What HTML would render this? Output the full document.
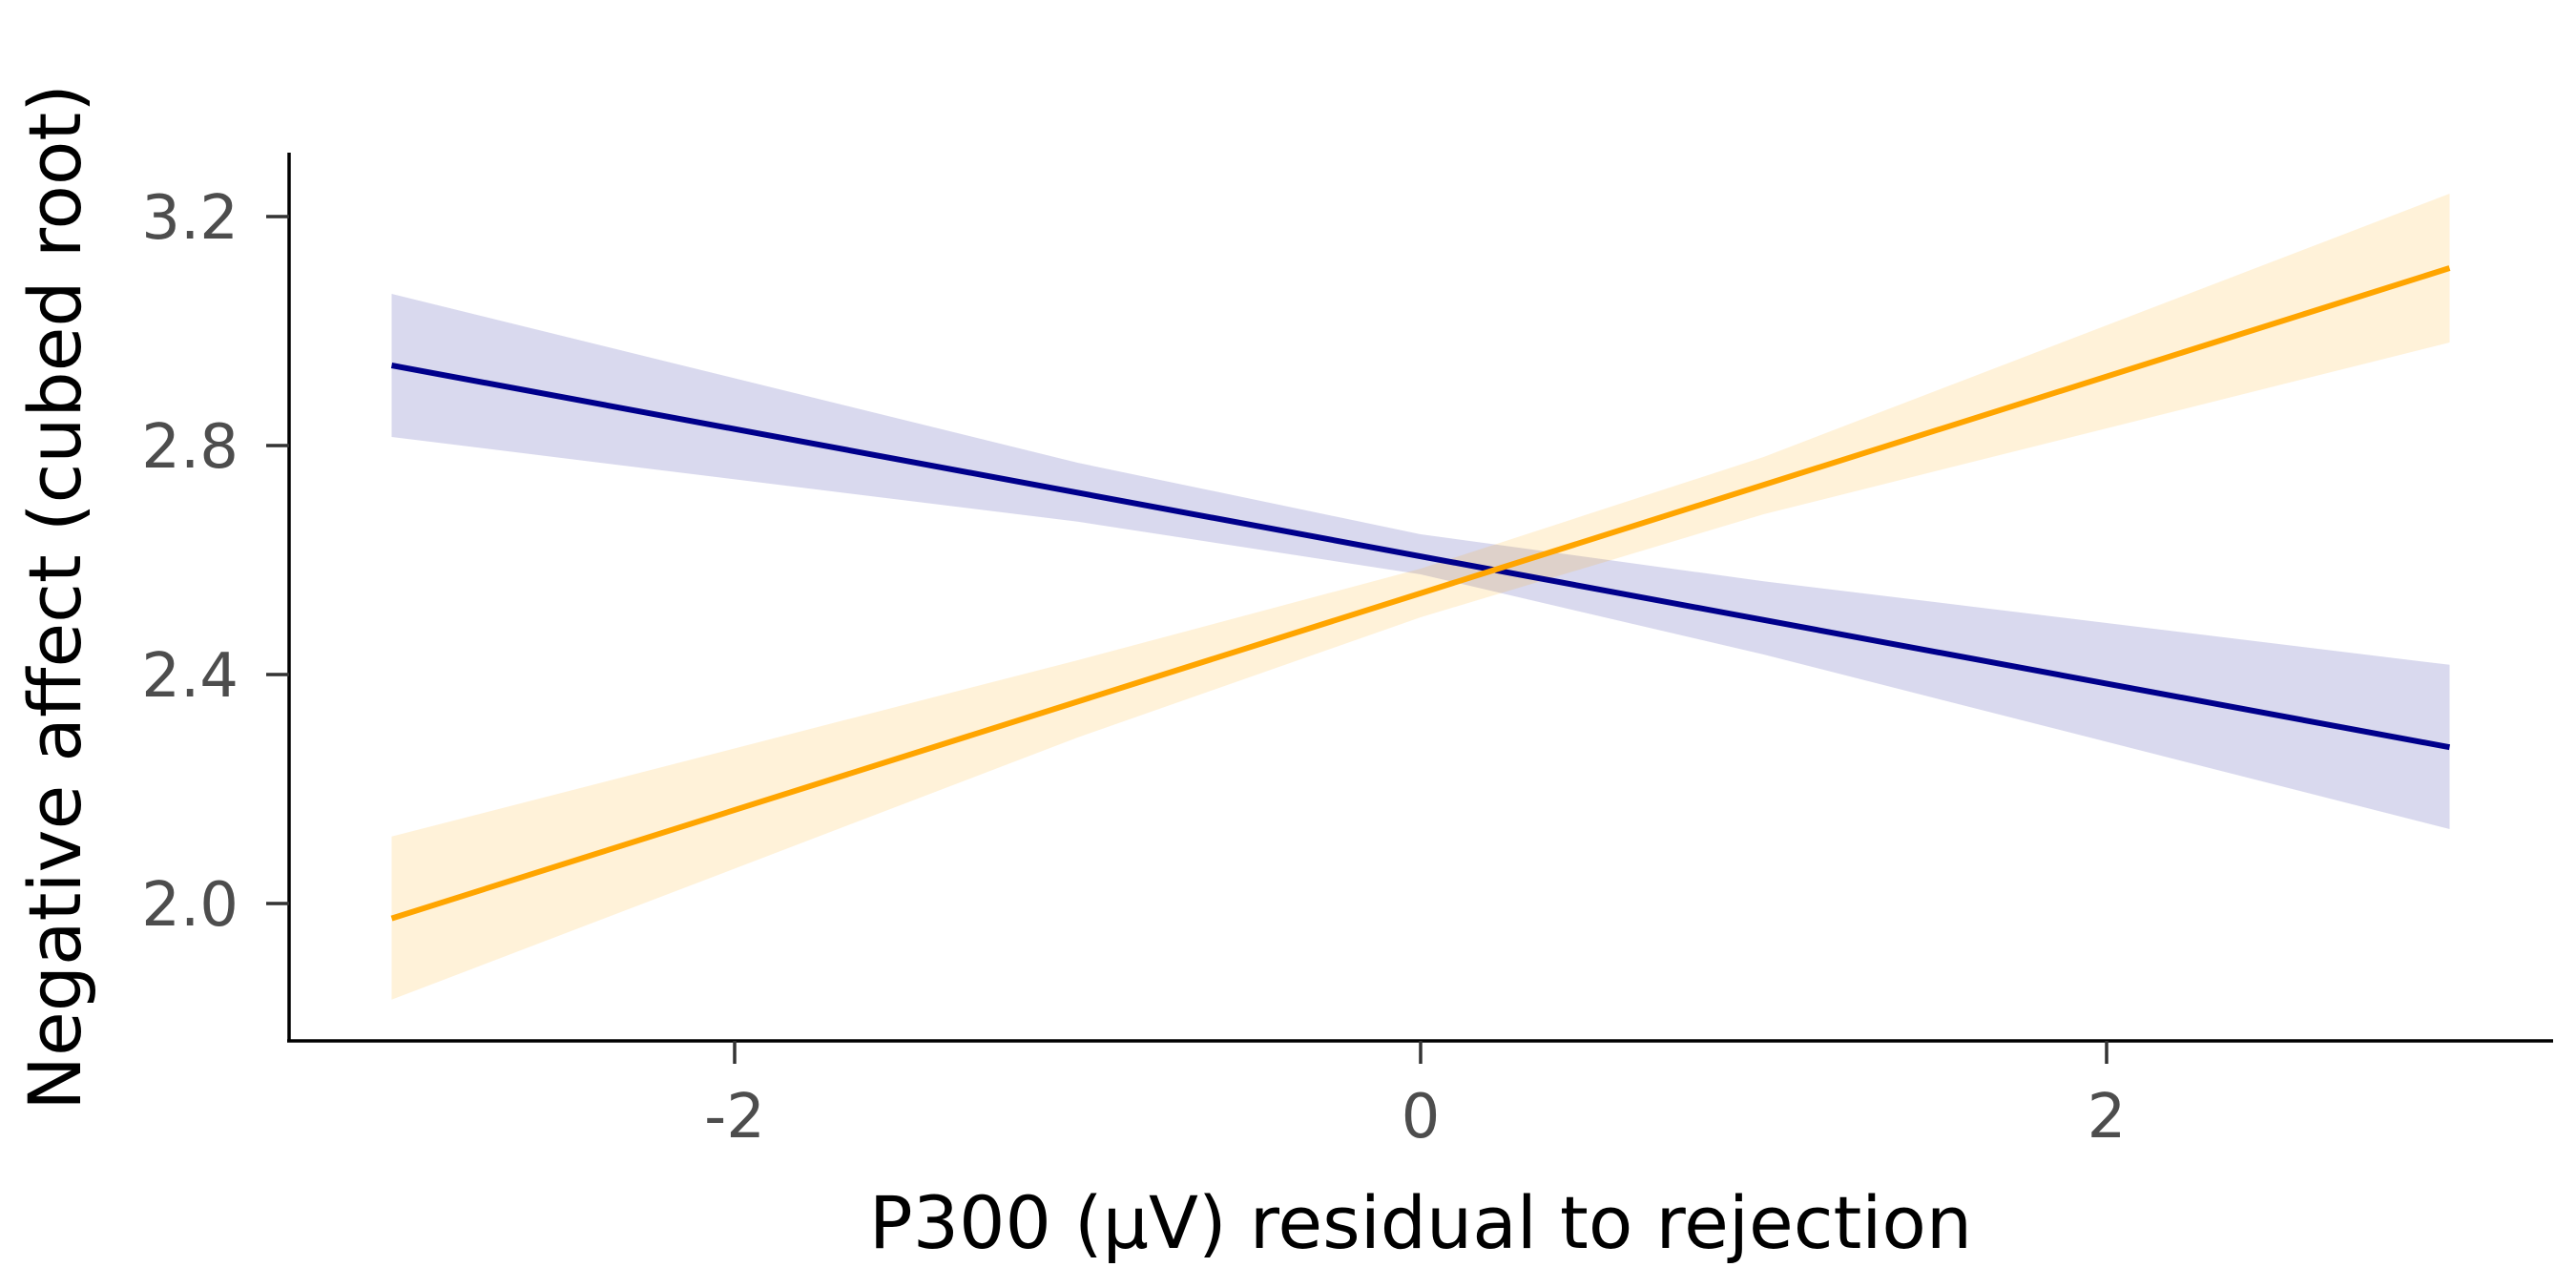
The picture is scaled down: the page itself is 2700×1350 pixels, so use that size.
<!DOCTYPE html>
<html><head><meta charset="utf-8"><style>
html,body{margin:0;padding:0;background:#fff}
svg{display:block}
text{font-family:"DejaVu Sans","Liberation Sans",sans-serif}
</style></head><body>
<svg id="chart" width="2700" height="1350" viewBox="0 0 2700 1350" xmlns="http://www.w3.org/2000/svg">
<g id="bands"></g><g id="lines"></g><g id="axes"></g>
</svg>
<script>
const xTicks = [-2, 0, 2];
const yTicks = [2.0, 2.4, 2.8, 3.2];
const yTickLabels = ["2.0", "2.4", "2.8", "3.2"];
const xTickLabels = ["-2", "0", "2"];
const bandX = [-3, -1, 0, 1, 3];
const blueFit = [2.94, 2.273];
const blueUpper = [3.065, 2.77, 2.645, 2.563, 2.417];
const blueLower = [2.815, 2.667, 2.575, 2.435, 2.13];
const orangeFit = [1.974, 3.11];
const orangeUpper = [2.117, 2.425, 2.585, 2.78, 3.24];
const orangeLower = [1.832, 2.29, 2.50, 2.68, 2.98];
const lineX = [-3, 3];

const X = v => 1489 + v * 359.5;
const Y = v => 947 - (v - 2) * 600;
const NS = "http://www.w3.org/2000/svg";
function mk(tag, attrs, parent){const e=document.createElementNS(NS,tag);for(const k in attrs)e.setAttribute(k,attrs[k]);parent.appendChild(e);return e;}
const bands=document.getElementById('bands'), lines=document.getElementById('lines'), axes=document.getElementById('axes');

function band(up, lo, color, name){
  let pts=bandX.map((x,i)=>X(x)+','+Y(up[i]));
  pts=pts.concat(bandX.slice().reverse().map((x,j)=>{const i=bandX.length-1-j;return X(x)+','+Y(lo[i]);}));
  const p=mk('polygon',{points:pts.join(' '),fill:color,'fill-opacity':0.15},bands);
  
  
}
band(blueUpper, blueLower, '#00008B', 'blue-confidence-band');
band(orangeUpper, orangeLower, '#FFA500', 'orange-confidence-band');

function fit(vals,color,name){
  const l=mk('line',{x1:X(lineX[0]),y1:Y(vals[0]),x2:X(lineX[1]),y2:Y(vals[1]),stroke:color,'stroke-width':6},lines);
  
  
}
fit(blueFit,'#00008B','blue-fit-line');
fit(orangeFit,'#FFA500','orange-fit-line');

const ya=mk('line',{x1:303,y1:160,x2:303,y2:1092,stroke:'#000','stroke-width':3.5},axes);


const xa=mk('line',{x1:301,y1:1091,x2:2676,y2:1091,stroke:'#000','stroke-width':3.5},axes);



yTicks.forEach((v,i)=>{
  const t=mk('line',{x1:279,y1:Y(v),x2:303,y2:Y(v),stroke:'#333','stroke-width':3.5},axes);
  
  
  const tx=mk('text',{x:250,y:Y(v)+23,'text-anchor':'end','font-size':64,fill:'#4d4d4d'},axes);
  tx.textContent=yTickLabels[i];
  
  
});
xTicks.forEach((v,i)=>{
  const t=mk('line',{x1:X(v),y1:1091,x2:X(v),y2:1115,stroke:'#333','stroke-width':3.5},axes);
  
  
  const tx=mk('text',{x:X(v),y:1192,'text-anchor':'middle','font-size':64,fill:'#4d4d4d'},axes);
  tx.textContent=xTickLabels[i];
  
  
});
</script>
<svg style="position:absolute;left:0;top:0" width="2700" height="1350">
<text x="1489" y="1308" text-anchor="middle" font-size="76" fill="#000" font-family="DejaVu Sans, Liberation Sans, sans-serif">P300 (μV) residual to rejection</text>
<text transform="translate(84,626) rotate(-90)" x="0" y="0" text-anchor="middle" font-size="76" fill="#000" font-family="DejaVu Sans, Liberation Sans, sans-serif">Negative affect (cubed root)</text>
</svg>
</body></html>
